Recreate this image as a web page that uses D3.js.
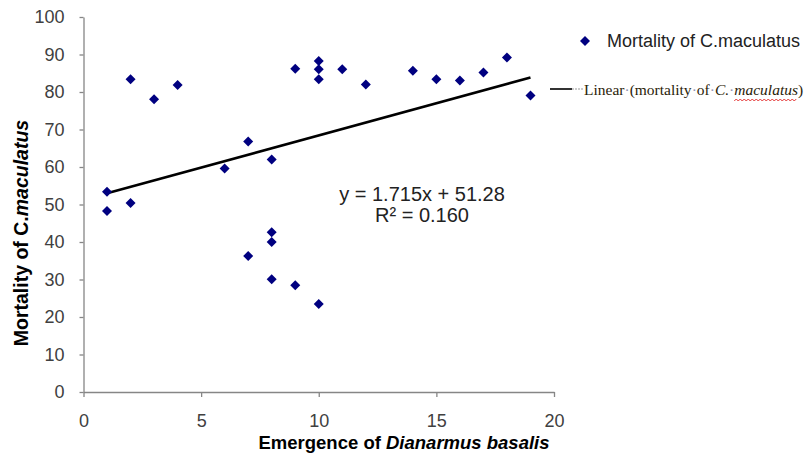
<!DOCTYPE html>
<html lang="en">
<head>
    <meta charset="UTF-8">
    <title>Mortality vs emergence</title>
    <script src="https://d3js.org/d3.v7.min.js"></script>
    <style>
        body { margin: 0; background: #fff; }
        text { font-family: 'Liberation Sans', Arial, sans-serif; }
        .tick text { font-size: 18px; fill: #404040; }
        .tick line, .domain { stroke: #868686; stroke-width: 1.3; }
    </style>
</head>
<body>
<script>

    // x = emergence of Dianarmus basalis, y = mortality of C.maculatus (%)
    const emergence = [1, 1, 2, 2, 3, 4, 6, 7, 7, 8, 8, 8, 8, 9, 9, 10, 10, 10, 10, 11, 12, 14, 15, 16, 17, 18, 19];
    const mortality = [53.4, 48.3, 83.4, 50.4, 78.1, 81.9, 59.6, 66.8, 36.3, 62.0, 42.6, 40.0, 30.1, 86.2, 28.5,
                       88.3, 86.1, 83.4, 23.5, 86.1, 82.0, 85.7, 83.4, 83.1, 85.2, 89.2, 79.1];

    const xTicks = [0, 5, 10, 15, 20];
    const yTicks = [0, 10, 20, 30, 40, 50, 60, 70, 80, 90, 100];

    const slope = 1.715;
    const intercept = 51.28;
    const rSquared = '0.160';

    const width  = 806;
    const height = 458;

    const x = d3.scaleLinear().domain([0, 20]).range([83.5, 554]);
    const y = d3.scaleLinear().domain([0, 100]).range([392, 17]);

    const svg = d3.select("body")
            .append("svg")
            .attr("width", width)
            .attr("height", height);

    // axes
    svg.append("g")
            .attr("transform", "translate(0,392)")
            .call(d3.axisBottom(x).tickValues(xTicks).tickSize(5).tickSizeOuter(0).tickPadding(17))
            .call(g => g.selectAll(".tick text").attr("dy", "0.71em"));

    svg.append("g")
            .attr("transform", "translate(83.5,0)")
            .call(d3.axisLeft(y).tickValues(yTicks).tickSize(4).tickSizeOuter(0).tickPadding(15));

    // trend line
    svg.append("line")
            .attr("x1", x(1)).attr("y1", y(slope * 1 + intercept))
            .attr("x2", x(19)).attr("y2", y(slope * 19 + intercept))
            .attr("stroke", "#000")
            .attr("stroke-width", 2.6);

    const diamond = "M0,-5L5,0L0,5L-5,0Z";

    svg.selectAll(".pt")
            .data(emergence.map((d, i) => [d, mortality[i]]))
            .enter()
            .append("path").attr("class", "pt")
            .attr("d", diamond)
            .attr("transform", d => "translate(" + [x(d[0]), y(d[1])] + ")")
            .attr("fill", "#000080");

    // equation
    svg.append("text")
            .attr("x", 422).attr("y", 201)
            .attr("text-anchor", "middle")
            .style("font-size", "20px").style("fill", "#222")
            .text("y = " + slope + "x + " + intercept);
    svg.append("text")
            .attr("x", 422).attr("y", 222)
            .attr("text-anchor", "middle")
            .style("font-size", "20px").style("fill", "#222")
            .text("R\u00b2 = " + rSquared);

    // axis titles
    const yt = svg.append("text")
            .attr("transform", "translate(28,233) rotate(-90)")
            .attr("text-anchor", "middle")
            .style("font-size", "19.5px").style("font-weight", "bold");
    yt.append("tspan").text("Mortality of C.");
    yt.append("tspan").style("font-style", "italic").text("maculatus");

    const xt = svg.append("text")
            .attr("x", 404).attr("y", 449)
            .attr("text-anchor", "middle")
            .style("font-size", "18.5px").style("font-weight", "bold");
    xt.append("tspan").text("Emergence of ");
    xt.append("tspan").style("font-style", "italic").text("Dianarmus basalis");

    // legend
    svg.append("path")
            .attr("d", diamond)
            .attr("transform", "translate(585,41)")
            .attr("fill", "#000080");
    svg.append("text")
            .attr("x", 607).attr("y", 47)
            .style("font-size", "18px").style("fill", "#222")
            .text("Mortality of C.maculatus");

    svg.append("line")
            .attr("x1", 550).attr("x2", 572).attr("y1", 89).attr("y2", 89)
            .attr("stroke", "#000").attr("stroke-width", 1.6);
    svg.append("line")
            .attr("x1", 572).attr("x2", 583).attr("y1", 89).attr("y2", 89)
            .attr("stroke", "#999").attr("stroke-width", 1).attr("stroke-dasharray", "2,1");

    const pieces = [
        {t: "Linear", c: "#2a2208"}, {t: "\u00b7", c: "#9090b0"},
        {t: "(mortality", c: "#2a2208"}, {t: "\u00b7", c: "#9090b0"},
        {t: "of", c: "#2a2208"}, {t: "\u00b7", c: "#9090b0"},
        {t: "C.", c: "#2a2208", i: true}, {t: "\u00b7", c: "#9090b0"},
        {t: "maculatus", c: "#2a2208", i: true, sq: true}, {t: ")", c: "#2a2208"}
    ];
    let lx = 584;
    pieces.forEach(p => {
        const t = svg.append("text")
                .attr("x", lx).attr("y", 95)
                .style("font-family", "'Liberation Serif', 'Times New Roman', serif")
                .style("font-size", "15.5px")
                .style("font-style", p.i ? "italic" : "normal")
                .style("fill", p.c)
                .text(p.t);
        const w = t.node().getComputedTextLength();
        if (p.sq) {
            const pts = d3.range(0, Math.floor(w / 2) + 1).map(k => [lx + k * 2, 99 + (k % 2 ? 0 : 2)]);
            svg.append("path")
                    .attr("d", d3.line()(pts))
                    .attr("fill", "none")
                    .attr("stroke", "#e02020").attr("stroke-width", 0.9);
        }
        lx += w;
    });

</script>
</body>
</html>
